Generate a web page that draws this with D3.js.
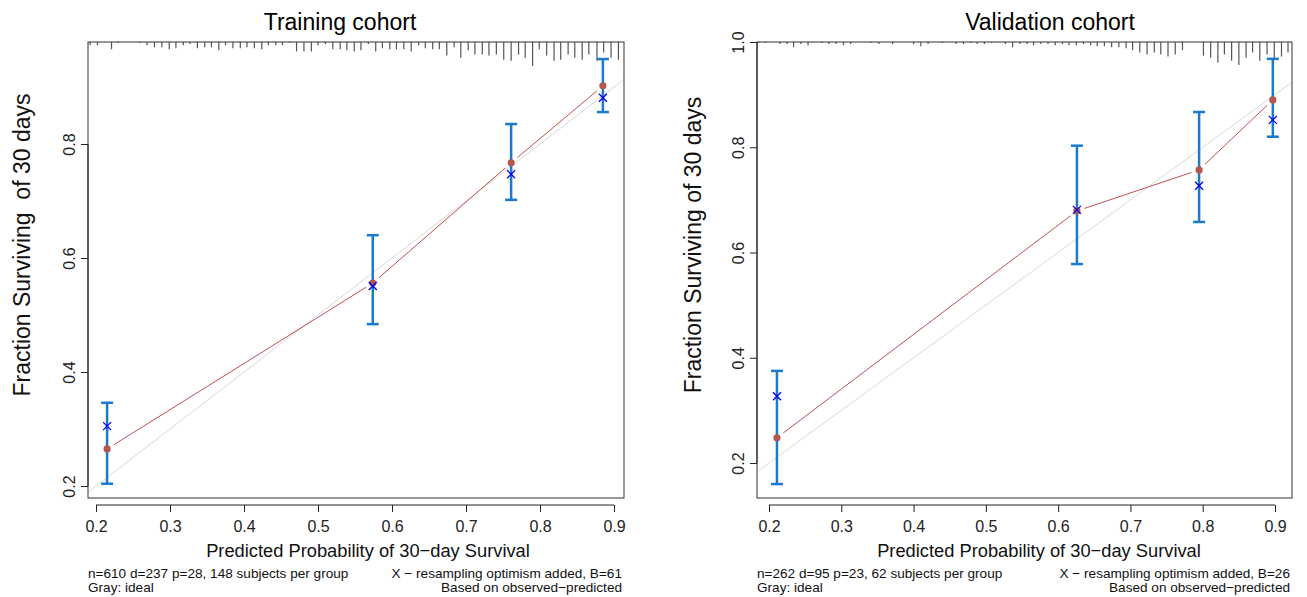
<!DOCTYPE html>
<html>
<head>
<meta charset="utf-8">
<script src="https://cdn.jsdelivr.net/npm/d3@7"></script>
<style>
  body { margin: 0; background: #fff; }
  text { font-family: "Liberation Sans", Arial, sans-serif; }
</style>
</head>
<body>
<div id="chart"></div>
<script>
// ---- data ----
var xTicks = [0.2, 0.3, 0.4, 0.5, 0.6, 0.7, 0.8, 0.9];
var trainYTicks = [0.2, 0.4, 0.6, 0.8];
var validYTicks = [0.2, 0.4, 0.6, 0.8, 1.0];

// training cohort: mean predicted, observed (KM), bias-corrected, CI
var trainPred = [0.215, 0.574, 0.761, 0.885];
var trainObs  = [0.265, 0.556, 0.767, 0.902];
var trainCorr = [0.305, 0.551, 0.747, 0.881];
var trainLo   = [0.204, 0.484, 0.702, 0.856];
var trainHi   = [0.346, 0.640, 0.835, 0.949];

// validation cohort
var validPred = [0.211, 0.626, 0.795, 0.897];
var validObs  = [0.248, 0.679, 0.757, 0.890];
var validCorr = [0.327, 0.681, 0.727, 0.852];
var validLo   = [0.160, 0.578, 0.658, 0.820];
var validHi   = [0.375, 0.803, 0.867, 0.968];

// rug of predicted probabilities (position, relative frequency)
var trainRugX = [0.192,0.202,0.221,0.230,0.259,0.269,0.279,0.289,0.299,0.308,0.318,0.327,0.337,0.347,0.356,0.366,0.375,0.385,0.395,0.404,0.414,0.424,
  0.433,0.443,0.452,0.462,0.471,0.481,0.491,0.500,0.510,0.520,0.530,0.539,0.549,0.558,0.568,0.578,0.587,0.597,0.606,0.616,0.626,0.636,0.645,0.655,0.664,
  0.674,0.684,0.693,0.703,0.712,0.722,0.731,0.741,0.751,0.761,0.771,0.780,0.790,0.799,0.809,0.819,0.828,0.838,0.847,0.857,0.866,0.877,0.886,0.896,0.906];
var trainRugN = [3,3,7,1,1,3,5,5,7,6,3,2,6,5,5,8,3,6,6,5,6,7,
  3,3,3,1,9,9,9,3,2,7,7,8,9,8,2,9,6,7,7,7,9,3,6,7,7,
  13,5,15,8,12,12,13,12,17,18,12,15,23,7,13,18,17,12,15,17,12,18,10,15,17];

var validRugX = [0.186,0.195,0.215,0.225,0.234,0.244,0.254,0.273,0.283,0.293,0.303,0.313,0.341,0.352,0.371,0.400,0.410,0.420,
  0.440,0.459,0.469,0.479,0.488,0.498,0.508,0.527,0.537,0.547,0.557,0.566,0.576,0.586,0.596,0.606,0.615,0.625,0.635,0.645,0.654,0.664,
  0.674,0.684,0.694,0.703,0.713,0.723,0.733,0.742,0.752,0.762,0.772,0.801,0.811,0.821,0.830,0.840,0.850,0.860,0.869,0.879,0.889,0.899,0.909,0.918];
var validRugN = [1,1,2,2,5,2,3,1,2,2,3,2,1,2,2,2,4,2,
  1,2,2,1,2,2,1,2,5,2,2,3,2,2,3,2,3,3,2,3,4,4,
  5,5,6,8,10,12,10,12,14,12,8,13,15,20,12,18,22,15,10,18,12,16,14,10];

var panels = [
  { title: "Training cohort", ylab: "Fraction Surviving  of 30 days",
    foot: ["n=610 d=237 p=28, 148 subjects per group", "Gray: ideal"],
    footR: ["X \u2212 resampling optimism added, B=61", "Based on observed\u2212predicted"],
    pred: trainPred, obs: trainObs, corr: trainCorr, lo: trainLo, hi: trainHi,
    rugX: trainRugX, rugN: trainRugN, yTicks: trainYTicks,
    box: { l: 88, r: 624, t: 42, b: 498 },
    xr: [96, 614], yd: [0.2, 0.8], yr: [486, 144],
    titleX: 340, xlabX: 368, ylabX: 22 },
  { title: "Validation cohort", ylab: "Fraction Surviving of 30 days",
    foot: ["n=262 d=95 p=23, 62 subjects per group", "Gray: ideal"],
    footR: ["X \u2212 resampling optimism added, B=26", "Based on observed\u2212predicted"],
    pred: validPred, obs: validObs, corr: validCorr, lo: validLo, hi: validHi,
    rugX: validRugX, rugN: validRugN, yTicks: validYTicks,
    box: { l: 757, r: 1292, t: 42, b: 498 },
    xr: [769, 1275], yd: [0.2, 1.0], yr: [463, 42],
    titleX: 1050, xlabX: 1039, ylabX: 693 }
];

var svg = d3.select("#chart").append("svg")
  .attr("width", 1307)
  .attr("height", 597);

panels.forEach(function(p, i) {
  var x = d3.scaleLinear().domain([0.2, 0.9]).range(p.xr);
  var y = d3.scaleLinear().domain(p.yd).range(p.yr);
  var b = p.box;
  var g = svg.append("g");

  // clip to plot box
  g.append("clipPath").attr("id", "clip" + i)
    .append("rect")
    .attr("x", b.l).attr("y", b.t)
    .attr("width", b.r - b.l).attr("height", b.b - b.t);
  var plot = g.append("g").attr("clip-path", "url(#clip" + i + ")");

  // ideal line
  var x0 = x.invert(b.l), x1 = x.invert(b.r);
  plot.append("line")
    .attr("x1", b.l).attr("y1", y(x0))
    .attr("x2", b.r).attr("y2", y(x1))
    .attr("stroke", "#d9d9d9").attr("stroke-width", 1);

  // rug at the top
  var len = d3.scaleLinear().domain([0, 23]).range([0, 24]);
  plot.selectAll("line.rug")
    .data(p.rugX)
    .enter().append("line")
    .attr("class", "rug")
    .attr("x1", d => x(d)).attr("x2", d => x(d))
    .attr("y1", b.t)
    .attr("y2", (d, j) => b.t + len(p.rugN[j]))
    .attr("stroke", "#555").attr("stroke-width", 1.2);

  // observed line (type = "b", gaps around points)
  var gap = 8;
  for (var k = 0; k < p.pred.length - 1; k++) {
    var ax = x(p.pred[k]), ay = y(p.obs[k]);
    var bx = x(p.pred[k + 1]), by = y(p.obs[k + 1]);
    var dx = bx - ax, dy = by - ay, dl = Math.sqrt(dx * dx + dy * dy);
    plot.append("line")
      .attr("x1", ax + dx / dl * gap).attr("y1", ay + dy / dl * gap)
      .attr("x2", bx - dx / dl * gap).attr("y2", by - dy / dl * gap)
      .attr("stroke", "#c0504d").attr("stroke-width", 1);
  }

  // error bars
  var eb = plot.selectAll("g.eb")
    .data(p.pred)
    .enter().append("g")
    .attr("class", "eb");
  eb.append("line")
    .attr("x1", d => x(d)).attr("x2", d => x(d))
    .attr("y1", (d, j) => y(p.lo[j])).attr("y2", (d, j) => y(p.hi[j]))
    .attr("stroke", "#1a7acb").attr("stroke-width", 2.5);
  [p.lo, p.hi].forEach(function(v) {
    eb.append("line")
      .attr("x1", d => x(d) - 6).attr("x2", d => x(d) + 6)
      .attr("y1", (d, j) => y(v[j])).attr("y2", (d, j) => y(v[j]))
      .attr("stroke", "#1a7acb").attr("stroke-width", 2.5);
  });

  // observed points
  plot.selectAll("circle.obs")
    .data(p.pred)
    .enter().append("circle")
    .attr("cx", d => x(d))
    .attr("cy", (d, j) => y(p.obs[j]))
    .attr("r", 3.6)
    .attr("fill", "#b5574f");

  // bias-corrected X marks
  var xm = plot.selectAll("g.xm")
    .data(p.pred)
    .enter().append("g")
    .attr("transform", (d, j) => "translate(" + x(d) + "," + y(p.corr[j]) + ")");
  xm.append("line").attr("x1", -4).attr("y1", -4).attr("x2", 4).attr("y2", 4)
    .attr("stroke", "#0000ee").attr("stroke-width", 1.3);
  xm.append("line").attr("x1", -4).attr("y1", 4).attr("x2", 4).attr("y2", -4)
    .attr("stroke", "#0000ee").attr("stroke-width", 1.3);

  // box
  g.append("rect")
    .attr("x", b.l).attr("y", b.t)
    .attr("width", b.r - b.l).attr("height", b.b - b.t)
    .attr("fill", "none").attr("stroke", "#333").attr("stroke-width", 1);

  // x axis
  var xa = g.append("g")
    .attr("transform", "translate(0," + (b.b + 7) + ")")
    .call(d3.axisBottom(x).tickValues(xTicks).tickSize(7).tickSizeOuter(0).tickFormat(d3.format(".1f")));
  xa.select(".domain").attr("d", "M" + x(0.2) + ",0H" + x(0.9));
  xa.selectAll("text").attr("font-size", 16).attr("fill", "#222").attr("y", 13).attr("dy", "0.9em");
  xa.selectAll("line, path").attr("stroke", "#222");

  // y axis
  var ya = g.append("g")
    .attr("transform", "translate(" + b.l + ",0)")
    .call(d3.axisLeft(y).tickValues(p.yTicks).tickSize(7).tickSizeOuter(0).tickFormat(d3.format(".1f")));
  ya.select(".domain").attr("d", "M0," + y(p.yTicks[0]) + "V" + y(p.yTicks[p.yTicks.length - 1]));
  ya.selectAll("line, path").attr("stroke", "#222");
  ya.selectAll("text")
    .attr("font-size", 16).attr("fill", "#222")
    .attr("x", null).attr("dy", null)
    .attr("text-anchor", "middle")
    .attr("transform", "translate(-13,0) rotate(-90)");

  // titles and labels
  g.append("text")
    .attr("x", p.titleX).attr("y", 30)
    .attr("text-anchor", "middle")
    .attr("font-size", 23)
    .text(p.title);
  g.append("text")
    .attr("x", p.xlabX).attr("y", 557)
    .attr("text-anchor", "middle")
    .attr("font-size", 18.3)
    .attr("fill", "#111")
    .text("Predicted Probability of 30\u2212day Survival");
  g.append("text")
    .attr("transform", "translate(" + (p.ylabX + 8) + ",245) rotate(-90)")
    .attr("text-anchor", "middle")
    .attr("font-size", 23)
    .style("white-space", "pre")
    .attr("fill", "#111")
    .text(p.ylab);

  // footers
  p.foot.forEach(function(t, j) {
    g.append("text")
      .attr("x", b.l).attr("y", 578 + j * 14)
      .attr("font-size", 13.6).attr("fill", "#111")
      .text(t);
  });
  p.footR.forEach(function(t, j) {
    g.append("text")
      .attr("x", b.r - 2).attr("y", 578 + j * 14)
      .attr("text-anchor", "end")
      .attr("font-size", 13.6).attr("fill", "#111")
      .text(t);
  });
});
</script>
</body>
</html>
